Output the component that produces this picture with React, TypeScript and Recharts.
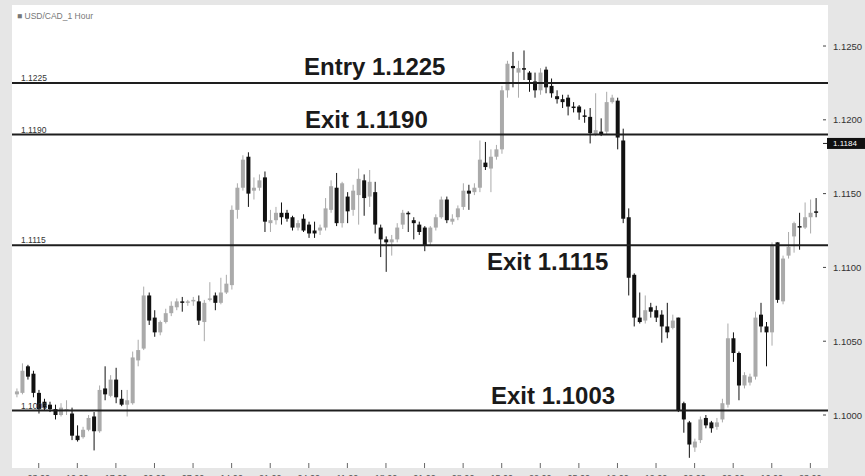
import { ComposedChart, Bar, XAxis, YAxis, CartesianGrid, ReferenceLine } from 'recharts'

// USD/CAD 1 hour candles
const opens = [
  1.1014, 1.1015, 1.1033, 1.1028, 1.1015, 1.1009, 1.1007, 1.1004, 1.1000, 1.1003,
  1.1001, 1.0986, 1.0985, 1.0990, 1.0999, 1.0989, 1.1018, 1.1013, 1.1024, 1.1011,
  1.1007, 1.1008, 1.1037, 1.1045, 1.1081, 1.1066, 1.1056, 1.1063, 1.1069, 1.1073,
  1.1077, 1.1076, 1.1077, 1.1077, 1.1063, 1.1078, 1.1081, 1.1076, 1.1083, 1.1088,
  1.1139, 1.1154, 1.1175, 1.1152, 1.1154, 1.1161, 1.1130, 1.1132, 1.1137, 1.1137,
  1.1134, 1.1127, 1.1133, 1.1129, 1.1125, 1.1125, 1.1127, 1.1139, 1.1154, 1.1130,
  1.1148, 1.1139, 1.1149, 1.1159, 1.1148, 1.1151, 1.1127, 1.1119, 1.1117, 1.1119,
  1.1129, 1.1137, 1.1132, 1.1129, 1.1127, 1.1117, 1.1127, 1.1134, 1.1146, 1.1131,
  1.1134, 1.1141, 1.1152, 1.1151, 1.1154, 1.1171, 1.1167, 1.1175, 1.1180, 1.1220,
  1.12365, 1.1232, 1.1235, 1.1232, 1.1226, 1.1220, 1.1234, 1.1223, 1.1216, 1.1214,
  1.1215, 1.1209, 1.1209, 1.1203, 1.1202, 1.1190, 1.1192, 1.1192, 1.1212, 1.1213,
  1.1186, 1.1134, 1.1095, 1.1066, 1.1064, 1.1073, 1.1071, 1.1068, 1.1060, 1.1059,
  1.1066, 1.1008, 1.0995, 1.0978, 1.0983, 1.0998, 1.0995, 1.0992, 1.0997, 1.1007,
  1.1052, 1.1042, 1.1020, 1.1022, 1.1026, 1.1068, 1.1060, 1.1056, 1.1117, 1.1077,
  1.1108, 1.1121, 1.1128, 1.1127, 1.1134, 1.1138,
]
const highs = [
  1.1018, 1.1035, 1.1034, 1.1030, 1.1017, 1.1011, 1.1009, 1.1007, 1.1008, 1.1010,
  1.1005, 1.0993, 1.0992, 1.1000, 1.1002, 1.1020, 1.1033, 1.1027, 1.1032, 1.1017,
  1.1017, 1.1043, 1.1051, 1.1087, 1.1083, 1.1071, 1.1064, 1.1072, 1.1077, 1.1079,
  1.1080, 1.1078, 1.1080, 1.1081, 1.1078, 1.1090, 1.1083, 1.1093, 1.1095, 1.1142,
  1.1157, 1.1176, 1.1178, 1.1161, 1.1163, 1.1165, 1.1139, 1.1141, 1.1144, 1.1139,
  1.1135, 1.1132, 1.1136, 1.1131, 1.1131, 1.1129, 1.1147, 1.1159, 1.1164, 1.1158,
  1.1151, 1.1156, 1.1167, 1.1163, 1.1166, 1.1158, 1.1129, 1.1121, 1.1122, 1.1130,
  1.1139, 1.1138, 1.1134, 1.1131, 1.1128, 1.1128, 1.1136, 1.1148, 1.1148, 1.1136,
  1.1142, 1.1157, 1.1156, 1.1157, 1.1186, 1.1185, 1.1180, 1.1183, 1.1223, 1.1240,
  1.1246, 1.1240, 1.1247, 1.1233, 1.1232, 1.1235, 1.1236, 1.1228, 1.1220, 1.1217,
  1.1217, 1.1212, 1.1210, 1.1207, 1.1208, 1.1218, 1.1201, 1.1219, 1.1217, 1.1215,
  1.1194, 1.1140, 1.1096, 1.1083, 1.1081, 1.1076, 1.1074, 1.1071, 1.1076, 1.1068,
  1.1066, 1.1009, 1.0996, 1.0984, 1.0999, 1.1000, 1.0996, 1.0998, 1.1011, 1.1062,
  1.1056, 1.1043, 1.1029, 1.1028, 1.1070, 1.1076, 1.1063, 1.1117, 1.1117, 1.1108,
  1.1124, 1.1131, 1.1137, 1.1144, 1.1146, 1.1147,
]
const lows = [
  1.1012, 1.1014, 1.1024, 1.1012, 1.1001, 1.1003, 1.1002, 1.0997, 1.0999, 1.1000,
  1.0983, 1.0982, 1.0984, 1.0989, 1.0976, 1.0988, 1.1010, 1.1012, 1.1008, 1.1006,
  1.0999, 1.1007, 1.1033, 1.1044, 1.1061, 1.1053, 1.1054, 1.1062, 1.1067, 1.1071,
  1.1070, 1.1074, 1.1074, 1.1061, 1.1050, 1.1077, 1.1071, 1.1075, 1.1082, 1.1085,
  1.1133, 1.1152, 1.1141, 1.1146, 1.1152, 1.1124, 1.1124, 1.1129, 1.1129, 1.1131,
  1.1125, 1.1125, 1.1124, 1.1120, 1.1120, 1.1122, 1.1125, 1.1137, 1.1128, 1.1127,
  1.1130, 1.1135, 1.1129, 1.1135, 1.1141, 1.1123, 1.1107, 1.1097, 1.1108, 1.1117,
  1.1126, 1.1124, 1.1119, 1.1122, 1.1111, 1.1115, 1.1125, 1.1133, 1.1130, 1.1129,
  1.1132, 1.1139, 1.1139, 1.1149, 1.1151, 1.1166, 1.1151, 1.1173, 1.1177, 1.1215,
  1.1222, 1.1215, 1.1227, 1.1219, 1.1215, 1.1217, 1.1218, 1.1215, 1.1211, 1.1208,
  1.1203, 1.1205, 1.1200, 1.1198, 1.1184, 1.1189, 1.1189, 1.1190, 1.1211, 1.1180,
  1.1130, 1.1081, 1.1060, 1.1062, 1.1062, 1.1066, 1.1063, 1.1049, 1.1052, 1.1058,
  1.1002, 1.0988, 1.0971, 1.0975, 1.0981, 1.0991, 1.0988, 1.0990, 1.0995, 1.1005,
  1.1036, 1.1010, 1.1018, 1.1020, 1.1024, 1.1056, 1.1033, 1.1047, 1.1076, 1.1075,
  1.1106, 1.1110, 1.1112, 1.1126, 1.1123, 1.1134,
]
const closes = [
  1.1016, 1.1030, 1.1026, 1.1015, 1.1004, 1.1005, 1.1004, 1.1000, 1.1005, 1.1004,
  1.0986, 1.0983, 1.0990, 1.0998, 1.0989, 1.1017, 1.1014, 1.1024, 1.1012, 1.1007,
  1.1010, 1.1039, 1.1044, 1.1081, 1.1064, 1.1056, 1.1063, 1.1069, 1.1074, 1.1077,
  1.1076, 1.1077, 1.1078, 1.1064, 1.1076, 1.1079, 1.1076, 1.1083, 1.1089, 1.1139,
  1.1154, 1.1173, 1.1150, 1.1154, 1.1159, 1.1131, 1.1132, 1.1137, 1.1134, 1.1133,
  1.1127, 1.1130, 1.1125, 1.1123, 1.1123, 1.1127, 1.1140, 1.1155, 1.1130, 1.1157,
  1.1138, 1.1152, 1.1160, 1.1147, 1.1158, 1.1129, 1.1119, 1.1117, 1.1119, 1.1127,
  1.1137, 1.1136, 1.1130, 1.1124, 1.1115, 1.1127, 1.1134, 1.1146, 1.1132, 1.1133,
  1.1140, 1.1152, 1.1150, 1.1154, 1.1173, 1.1168, 1.1175, 1.1180, 1.1220, 1.1238,
  1.1235, 1.1235, 1.1234, 1.1227, 1.1220, 1.1232, 1.1222, 1.1218, 1.1214, 1.1212,
  1.1209, 1.1208, 1.1205, 1.1202, 1.1191, 1.1193, 1.1190, 1.1212, 1.1215, 1.1188,
  1.1133, 1.1093, 1.1066, 1.1063, 1.1071, 1.1070, 1.1066, 1.1060, 1.1056, 1.1064,
  1.1003, 1.0997, 1.0980, 1.0982, 1.0997, 1.0993, 1.0991, 1.0995, 1.1008, 1.1052,
  1.1042, 1.1020, 1.1027, 1.1026, 1.1066, 1.1060, 1.1056, 1.1115, 1.1078, 1.1106,
  1.1114, 1.1130, 1.1127, 1.1134, 1.1137, 1.1137,
]

const timeTicks = [4, 11, 18, 25, 32, 39, 46, 53, 60, 67, 74, 81, 88, 95, 102, 109, 116, 123, 130, 137, 144]
const timeLabels = [
  '03:00', '10:00', '17:00', '00:00', '07:00', '14:00', '21:00', '04:00', '11:00', '18:00', '01:00',
  '08:00', '15:00', '22:00', '05:00', '12:00', '19:00', '02:00', '09:00', '16:00', '23:00',
]
const priceTicks = [1.1, 1.105, 1.11, 1.115, 1.12, 1.125]

const levelValues = [1.1225, 1.119, 1.1115, 1.1003]
const levelNames = ['Entry 1.1225', 'Exit 1.1190', 'Exit 1.1115', 'Exit 1.1003']
const currentPrice = 1.1184

// where the big annotation sits relative to its line (dx from plot left, dy from line)
const levelTextPos = [
  { dx: 292, dy: -8 },
  { dx: 293, dy: -7 },
  { dx: 475, dy: 25 },
  { dx: 479, dy: -7 },
]

const data = opens.map((o, i) => ({
  i,
  open: o,
  high: highs[i],
  low: lows[i],
  close: closes[i],
  range: [lows[i], highs[i]],
}))

const font = '"Liberation Sans", Arial, sans-serif'

const Candle = (props: any) => {
  const { x, y, width, height } = props
  const d = props.payload ?? props
  const top = Math.min(y, y + height)
  const h = Math.abs(height)
  const span = d.high - d.low || 1
  const toY = (v: number) => top + ((d.high - v) / span) * h
  const up = d.close >= d.open
  const color = up ? '#aaaaaa' : '#111111'
  const bTop = toY(Math.max(d.open, d.close))
  const bBot = toY(Math.min(d.open, d.close))
  const cx = x + width / 2
  return (
    <g>
      <line x1={cx} x2={cx} y1={top} y2={top + h} stroke={color} strokeWidth={1} />
      <rect x={x} y={bTop} width={width} height={Math.max(bBot - bTop, 1.5)} fill={color} />
    </g>
  )
}

const TimeTick = ({ x, y, payload }: any) => {
  const k = timeTicks.indexOf(payload.value)
  return (
    <g>
      <line x1={x} x2={x} y1={y - 5} y2={y} stroke="#666" />
      <text x={x} y={y + 13} textAnchor="middle" fontSize={9} fill="#555" fontFamily={font}>
        {timeLabels[k]}
      </text>
    </g>
  )
}

const PriceTick = ({ x, y, payload }: any) => (
  <g>
    <line x1={x - 5} x2={x - 2} y1={y} y2={y} stroke="#444" />
    <text x={x + 5} y={y + 3.5} fontSize={9.5} fill="#333" fontFamily={font}>
      {payload.value.toFixed(4)}
    </text>
  </g>
)

const LevelLabel = ({ viewBox, idx }: any) => {
  const { x, y } = viewBox
  const pos = levelTextPos[idx]
  return (
    <g>
      <text x={x + 9} y={y - 2} fontSize={8.5} fill="#333" fontFamily={font}>
        {levelValues[idx].toFixed(4)}
      </text>
      <text x={x + pos.dx} y={y + pos.dy} fontSize={24} fontWeight="bold" fill="#1a1a1a" fontFamily={font}>
        {levelNames[idx]}
      </text>
    </g>
  )
}

const PriceBox = ({ viewBox }: any) => {
  const { x, y, width } = viewBox
  const r = x + width
  return (
    <g>
      <line x1={r - 5} x2={r - 1} y1={y} y2={y} stroke="#222" />
      <rect x={r - 1} y={y - 5.5} width={40} height={11} fill="#111" />
      <text x={r + 5} y={y + 3} fontSize={8} fill="#fff" fontFamily={font}>
        {currentPrice.toFixed(4)}
      </text>
    </g>
  )
}

export default function App() {
  return (
    <div style={{ position: 'absolute', left: 0, top: 0, width: 865, height: 476, background: '#e6e6e6' }}>
      <ComposedChart width={865} height={476} data={data} margin={{ top: 5, right: 0, bottom: 0, left: 12 }}>
        <CartesianGrid fill="#ffffff" horizontal={false} vertical={false} />
        <XAxis
          dataKey="i"
          type="number"
          domain={[-0.85, 147.2]}
          allowDataOverflow
          ticks={timeTicks}
          tick={<TimeTick />}
          tickSize={0}
          tickMargin={0}
          axisLine={false}
          tickLine={false}
          height={8}
          interval={0}
        />
        <YAxis
          orientation="right"
          type="number"
          domain={[1.09641, 1.12778]}
          allowDataOverflow
          ticks={priceTicks}
          tick={<PriceTick />}
          tickSize={0}
          tickMargin={0}
          axisLine={false}
          tickLine={false}
          width={37}
          interval={0}
        />
        <Bar dataKey="range" barSize={4} shape={<Candle />} isAnimationActive={false} />
        {levelValues.map((v, idx) => (
          <ReferenceLine key={v} y={v} stroke="#1e1e1e" strokeWidth={2} label={<LevelLabel idx={idx} />} />
        ))}
        <ReferenceLine y={currentPrice} stroke="none" label={<PriceBox />} />
        <text x={17} y={19} fontSize={8.5} fill="#777" fontFamily={font}>
          ■ USD/CAD_1 Hour
        </text>
      </ComposedChart>
    </div>
  )
}
